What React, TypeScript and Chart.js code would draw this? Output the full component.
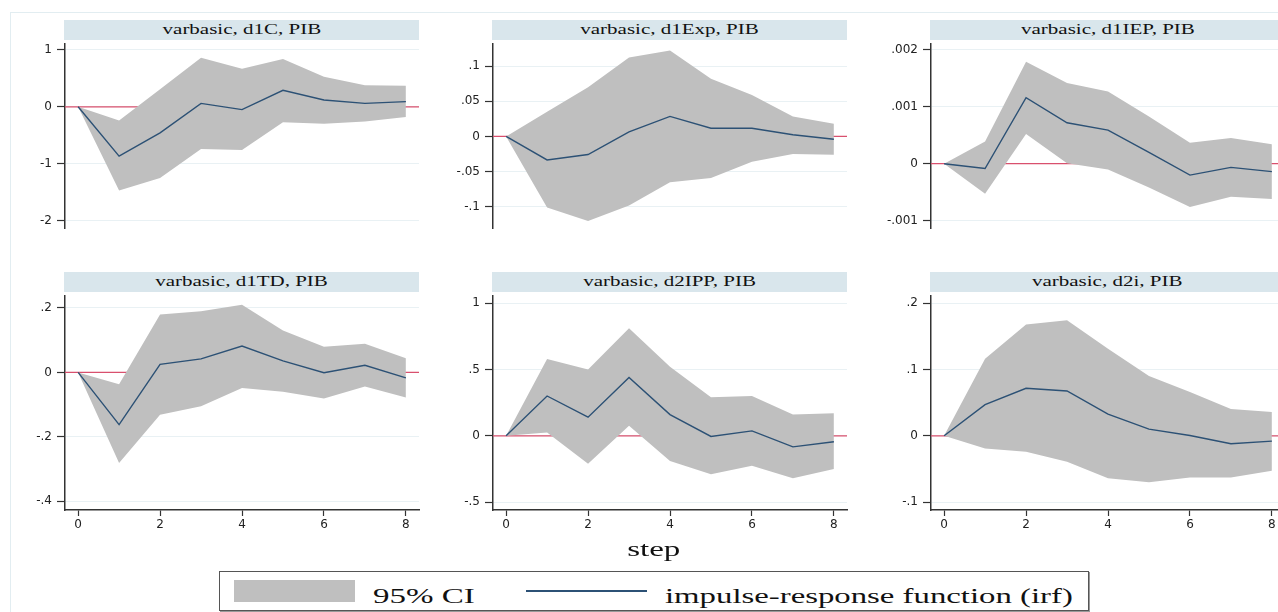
import React, { useEffect, useRef } from "react";
import { Chart, registerables } from "chart.js";
Chart.register(...registerables);

// ---------- data ----------
const steps = [0, 1, 2, 3, 4, 5, 6, 7, 8];
const xTickValues = [0, 2, 4, 6, 8];
const xTickLabels = ["0", "2", "4", "6", "8"];

const titleD1C = "varbasic, d1C, PIB";
const irfD1C = [0, -0.866, -0.458, 0.06, -0.05, 0.289, 0.12, 0.06, 0.09];
const upD1C = [0, -0.24, 0.31, 0.86, 0.67, 0.84, 0.53, 0.38, 0.37];
const loD1C = [0, -1.47, -1.25, -0.74, -0.76, -0.27, -0.3, -0.26, -0.18];
const yTicksD1C = [-2, -1, 0, 1];
const yLabelsD1C = ["-2", "-1", "0", "1"];

const titleD1Exp = "varbasic, d1Exp, PIB";
const irfD1Exp = [0, -0.0333, -0.0257, 0.0064, 0.0285, 0.0116, 0.0116, 0.0024, -0.004];
const upD1Exp = [0, 0.035, 0.07, 0.112, 0.122, 0.082, 0.059, 0.0285, 0.018];
const loD1Exp = [0, -0.101, -0.12, -0.098, -0.065, -0.059, -0.036, -0.025, -0.026];
const yTicksD1Exp = [-0.1, -0.05, 0, 0.05, 0.1];
const yLabelsD1Exp = ["-.1", "-.05", "0", ".05", ".1"];

const titleD1IEP = "varbasic, d1IEP, PIB";
const irfD1IEP = [0, -0.000085, 0.00116, 0.00072, 0.00059, 0.0002, -0.0002, -0.000065, -0.00014];
const upD1IEP = [0, 0.00039, 0.00179, 0.00142, 0.00127, 0.00083, 0.00037, 0.00045, 0.00034];
const loD1IEP = [0, -0.00053, 0.00052, 0.00001, -0.0001, -0.00042, -0.00076, -0.00058, -0.00062];
const yTicksD1IEP = [-0.001, 0, 0.001, 0.002];
const yLabelsD1IEP = ["-.001", "0", ".001", ".002"];

const titleD1TD = "varbasic, d1TD, PIB";
const irfD1TD = [0, -0.162, 0.025, 0.042, 0.082, 0.036, -0.001, 0.022, -0.017];
const upD1TD = [0, -0.037, 0.18, 0.19, 0.21, 0.13, 0.08, 0.089, 0.044];
const loD1TD = [0, -0.281, -0.131, -0.105, -0.048, -0.06, -0.081, -0.044, -0.078];
const yTicksD1TD = [-0.4, -0.2, 0, 0.2];
const yLabelsD1TD = ["-.4", "-.2", "0", ".2"];

const titleD2IPP = "varbasic, d2IPP, PIB";
const irfD2IPP = [0, 0.3, 0.14, 0.44, 0.16, -0.005, 0.037, -0.083, -0.045];
const upD2IPP = [0, 0.578, 0.5, 0.81, 0.52, 0.29, 0.3, 0.16, 0.17];
const loD2IPP = [0, 0.025, -0.21, 0.075, -0.19, -0.29, -0.225, -0.32, -0.25];
const yTicksD2IPP = [-0.5, 0, 0.5, 1];
const yLabelsD2IPP = ["-.5", "0", ".5", "1"];

const titleD2i = "varbasic, d2i, PIB";
const irfD2i = [0, 0.047, 0.0715, 0.0675, 0.0325, 0.01, 0.0005, -0.012, -0.008];
const upD2i = [0, 0.116, 0.1675, 0.174, 0.131, 0.09, 0.066, 0.0405, 0.036];
const loD2i = [0, -0.019, -0.024, -0.039, -0.064, -0.07, -0.063, -0.063, -0.0525];
const yTicksD2i = [-0.1, 0, 0.1, 0.2];
const yLabelsD2i = ["-.1", "0", ".1", ".2"];

const xAxisTitle = "step";
const legendCI = "95% CI";
const legendIRF = "impulse-response function (irf)";

// ---------- styles ----------
const NAVY = "#2c5175";
const GRAY = "#bfbfbf";
const RED = "#d9506e";
const STRIP = "#d9e6ec";
const GRID = "#e9f1f4";
const AXIS = "#333333";

const COL_X = [65, 493, 931];
const ROW_Y = [40, 292];
const PLOT_W = 354;
const PLOT_H = 218;
const Y_AXIS_W = 60;

type PanelCfg = {
  title: string;
  irf: number[];
  up: number[];
  lo: number[];
  yTicks: number[];
  yLabels: string[];
  yMin: number;
  yMax: number;
  col: number;
  row: number;
};

const panels: PanelCfg[] = [
  { title: titleD1C, irf: irfD1C, up: upD1C, lo: loD1C, yTicks: yTicksD1C, yLabels: yLabelsD1C, yMin: -2.13, yMax: 1.1, col: 0, row: 0 },
  { title: titleD1Exp, irf: irfD1Exp, up: upD1Exp, lo: loD1Exp, yTicks: yTicksD1Exp, yLabels: yLabelsD1Exp, yMin: -0.13, yMax: 0.131, col: 1, row: 0 },
  { title: titleD1IEP, irf: irfD1IEP, up: upD1IEP, lo: loD1IEP, yTicks: yTicksD1IEP, yLabels: yLabelsD1IEP, yMin: -0.00113, yMax: 0.0021, col: 2, row: 0 },
  { title: titleD1TD, irf: irfD1TD, up: upD1TD, lo: loD1TD, yTicks: yTicksD1TD, yLabels: yLabelsD1TD, yMin: -0.427, yMax: 0.2366, col: 0, row: 1 },
  { title: titleD2IPP, irf: irfD2IPP, up: upD2IPP, lo: loD2IPP, yTicks: yTicksD2IPP, yLabels: yLabelsD2IPP, yMin: -0.559, yMax: 1.052, col: 1, row: 1 },
  { title: titleD2i, irf: irfD2i, up: upD2i, lo: loD2i, yTicks: yTicksD2i, yLabels: yLabelsD2i, yMin: -0.1118, yMax: 0.2103, col: 2, row: 1 },
];

const zeroLine = {
  id: "zeroLine",
  beforeDatasetsDraw(chart: any) {
    const { ctx, chartArea, scales } = chart;
    const py = scales.y.getPixelForValue(0);
    ctx.save();
    ctx.strokeStyle = RED;
    ctx.lineWidth = 1.2;
    ctx.beginPath();
    ctx.moveTo(chartArea.left, py);
    ctx.lineTo(chartArea.right, py);
    ctx.stroke();
    ctx.restore();
  },
};

const toPts = (arr: number[]) => steps.map((s, i) => ({ x: s, y: arr[i] }));

function Panel({ cfg }: { cfg: PanelCfg }) {
  const ref = useRef<HTMLCanvasElement>(null);
  const showX = cfg.row === 1;
  const padTop = 8;
  const padRight = 6;
  const bottomExtra = showX ? 30 : 8;
  const cw = Y_AXIS_W + PLOT_W + padRight;
  const ch = padTop + PLOT_H + bottomExtra;
  const left = COL_X[cfg.col] - Y_AXIS_W;
  const top = ROW_Y[cfg.row] - padTop;

  useEffect(() => {
    if (!ref.current) return;
    const chart = new Chart(ref.current, {
      type: "line",
      data: {
        datasets: [
          {
            data: toPts(cfg.irf),
            borderColor: NAVY,
            borderWidth: 1.4,
            pointRadius: 0,
            fill: false,
            tension: 0,
          },
          {
            data: toPts(cfg.up),
            borderColor: "rgba(0,0,0,0)",
            borderWidth: 0,
            pointRadius: 0,
            backgroundColor: GRAY,
            fill: "+1",
            tension: 0,
          },
          {
            data: toPts(cfg.lo),
            borderColor: "rgba(0,0,0,0)",
            borderWidth: 0,
            pointRadius: 0,
            fill: false,
            tension: 0,
          },
        ],
      },
      options: {
        responsive: false,
        animation: false,
        events: [],
        layout: { padding: { left: 0, top: padTop, right: padRight, bottom: showX ? 0 : bottomExtra } },
        plugins: { legend: { display: false }, tooltip: { enabled: false }, title: { display: false } },
        scales: {
          x: {
            type: "linear",
            display: showX,
            min: -0.32,
            max: 8.32,
            bounds: "data",
            afterFit: (s: any) => {
              s.height = 30;
            },
            afterBuildTicks: (axis: any) => {
              axis.ticks = xTickValues.map((v) => ({ value: v }));
            },
            ticks: {
              autoSkip: false,
              maxRotation: 0,
              padding: 2,
              color: "#222",
              font: { family: "DejaVu Sans", size: 12 },
              callback: (_v: any, i: number) => xTickLabels[i],
            },
            grid: {
              display: true,
              drawOnChartArea: false,
              drawTicks: true,
              tickLength: 6,
              tickColor: AXIS,
              tickWidth: 1.2,
            },
            border: { display: true, color: AXIS, width: 1.5 },
          },
          y: {
            type: "linear",
            min: cfg.yMin,
            max: cfg.yMax,
            bounds: "data",
            afterFit: (s: any) => {
              s.width = Y_AXIS_W;
            },
            afterBuildTicks: (axis: any) => {
              axis.ticks = cfg.yTicks.map((v) => ({ value: v }));
            },
            ticks: {
              autoSkip: false,
              padding: 5,
              color: "#222",
              font: { family: "DejaVu Sans", size: 12 },
              callback: (_v: any, i: number) => cfg.yLabels[i],
            },
            grid: {
              display: true,
              color: GRID,
              lineWidth: 1,
              drawOnChartArea: true,
              drawTicks: true,
              tickLength: 8,
              tickColor: AXIS,
              tickWidth: 1.2,
            },
            border: { display: true, color: AXIS, width: 1.5 },
          },
        },
      } as any,
      plugins: [zeroLine],
    });
    return () => chart.destroy();
  }, [cfg]);

  const stripTop = ROW_Y[cfg.row] - 20;
  return (
    <>
      <div
        style={{
          position: "absolute",
          left: COL_X[cfg.col] - 1,
          top: stripTop,
          width: PLOT_W + 1,
          height: 20,
          background: STRIP,
          textAlign: "center",
          lineHeight: "20px",
          fontFamily: "'Liberation Serif', serif",
          fontSize: 14,
          color: "#111",
          whiteSpace: "nowrap",
        }}
      >
        <span style={{ display: "inline-block", transform: "scaleX(1.5)" }}>{cfg.title}</span>
      </div>
      <canvas
        ref={ref}
        width={cw}
        height={ch}
        style={{ position: "absolute", left, top, width: cw, height: ch }}
      />
    </>
  );
}

export default function App() {
  const serif = "'Liberation Serif', serif";
  return (
    <div
      style={{
        position: "fixed",
        left: 0,
        top: 0,
        width: 1278,
        height: 612,
        overflow: "hidden",
        background: "#ffffff",
      }}
    >
      <div
        style={{
          position: "absolute",
          left: 10,
          top: 12,
          width: 1300,
          height: 700,
          border: "1.5px solid #e2edf1",
        }}
      />
      {panels.map((p, i) => (
        <Panel key={i} cfg={p} />
      ))}
      <div
        style={{
          position: "absolute",
          left: 554,
          width: 200,
          top: 538,
          textAlign: "center",
          fontFamily: serif,
          fontSize: 22,
          lineHeight: "22px",
          color: "#111",
        }}
      >
        <span style={{ display: "inline-block", transform: "scaleX(1.5)" }}>{xAxisTitle}</span>
      </div>
      <div
        style={{
          position: "absolute",
          left: 219,
          top: 571,
          width: 868,
          height: 38,
          border: "1px solid #555",
          boxShadow: "1px 1px 0 #999",
          background: "#fff",
        }}
      />
      <div style={{ position: "absolute", left: 234, top: 580, width: 121, height: 22, background: GRAY }} />
      <div style={{ position: "absolute", left: 526, top: 590, width: 121, height: 1.5, background: NAVY }} />
      <div
        style={{
          position: "absolute",
          left: 373,
          top: 585,
          fontFamily: serif,
          fontSize: 22,
          lineHeight: "22px",
          color: "#111",
          whiteSpace: "nowrap",
          transformOrigin: "left top",
          transform: "scaleX(1.5)",
        }}
      >
        {legendCI}
      </div>
      <div
        style={{
          position: "absolute",
          left: 665,
          top: 585,
          fontFamily: serif,
          fontSize: 22,
          lineHeight: "22px",
          color: "#111",
          whiteSpace: "nowrap",
          transformOrigin: "left top",
          transform: "scaleX(1.49)",
        }}
      >
        {legendIRF}
      </div>
    </div>
  );
}
